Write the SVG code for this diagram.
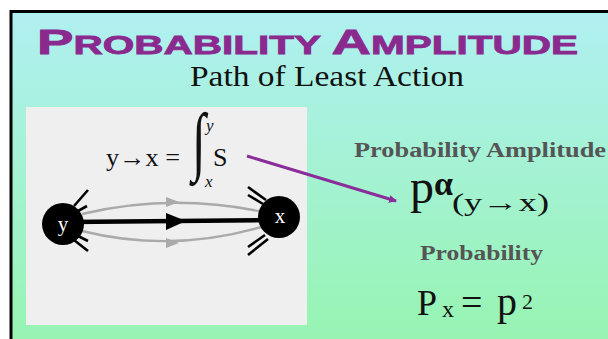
<svg xmlns="http://www.w3.org/2000/svg" width="608" height="339" viewBox="0 0 608 339">
<defs>
<linearGradient id="bg" x1="0" y1="0" x2="0" y2="1">
<stop offset="0" stop-color="#b0f0f2"/>
<stop offset="1" stop-color="#97f4b2"/>
</linearGradient>
<marker id="ap" markerWidth="8" markerHeight="8" refX="7" refY="4" orient="auto" markerUnits="userSpaceOnUse" viewBox="0 0 8 8">
<path d="M0,0 L8,4 L0,8 z" fill="#8a2d9a"/>
</marker>
<style>
.serif{font-family:"Liberation Serif","DejaVu Serif",serif}
.gray{fill:#555555;font-weight:bold}
.tick{stroke:#000;stroke-width:2.6;stroke-linecap:butt}
.curve{fill:none;stroke:#aaaaaa;stroke-width:2.4}
</style>
</defs>
<rect x="0" y="0" width="608" height="339" fill="#ffffff"/>
<rect x="10" y="11" width="598" height="328" fill="url(#bg)"/>
<line x1="11" y1="10" x2="11" y2="339" stroke="#000" stroke-width="3"/>
<line x1="10" y1="11.5" x2="608" y2="11.5" stroke="#000" stroke-width="3"/>

<g id="title">
<text x="37" y="54" font-family="Liberation Sans, Arial, sans-serif" font-weight="bold" fill="#8b2a8e" stroke="#8b2a8e" stroke-width="0.8" textLength="541" lengthAdjust="spacingAndGlyphs"><tspan font-size="35">P</tspan><tspan font-size="26">ROBABILITY </tspan><tspan font-size="35">A</tspan><tspan font-size="26">MPLITUDE</tspan></text>
<text x="327" y="86" class="serif" font-size="30" text-anchor="middle" fill="#111" textLength="274" lengthAdjust="spacingAndGlyphs">Path of Least Action</text>
</g>

<rect id="panel" x="26" y="107" width="281" height="218" fill="#efefef"/>

<g id="formula" class="serif" fill="#111">
<text x="106" y="166" font-size="26" textLength="74" lengthAdjust="spacingAndGlyphs">y→x =</text>
<text x="192" y="109" font-size="50" transform="scale(1,1.52)">∫</text>
<text x="206" y="131" font-size="17" font-style="italic">y</text>
<text x="205" y="187" font-size="17" font-style="italic">x</text>
<text x="213" y="166" font-size="26">S</text>
</g>

<g id="connectors">
<path class="curve" d="M82,214 Q174,192 268,213"/>
<path class="curve" d="M82,231 Q174,254 268,225"/>
<path d="M166,197 L179,202 L166,207 z" fill="#aaaaaa"/>
<path d="M166,238 L179,243 L166,248 z" fill="#aaaaaa"/>
<line x1="70" y1="222" x2="272" y2="220" stroke="#000" stroke-width="4.5"/>
<path d="M166,213 L186,221 L166,230 z" fill="#000"/>
<line x1="247" y1="156" x2="396" y2="201" stroke="#8a2d9a" stroke-width="3" marker-end="url(#ap)"/>
</g>

<g id="node-y">
<line class="tick" x1="74" y1="206" x2="88" y2="190"/>
<line class="tick" x1="78" y1="211" x2="87" y2="206"/>
<line class="tick" x1="78" y1="236" x2="88" y2="241"/>
<line class="tick" x1="74" y1="240" x2="88" y2="251"/>
<circle cx="63" cy="224" r="21" fill="#000"/>
<text x="63" y="231" class="serif" font-size="21" fill="#fff" text-anchor="middle">y</text>
</g>

<g id="node-x">
<line class="tick" x1="248" y1="187" x2="266" y2="200"/>
<line class="tick" x1="248" y1="195" x2="263" y2="204"/>
<line class="tick" x1="248" y1="247" x2="265" y2="235"/>
<line class="tick" x1="248" y1="255" x2="268" y2="239"/>
<circle cx="279" cy="217" r="21" fill="#000"/>
<text x="280" y="223" class="serif" font-size="21" fill="#fff" text-anchor="middle">x</text>
</g>

<g id="amplitude" class="serif">
<text x="354" y="157" font-size="20" class="gray" textLength="252" lengthAdjust="spacingAndGlyphs">Probability Amplitude</text>
<text x="410" y="203" font-size="48" fill="#111">p</text>
<text x="434" y="195" font-size="34" font-weight="bold" fill="#111">α</text>
<text x="452" y="211" font-size="25" fill="#111" textLength="97" lengthAdjust="spacingAndGlyphs">(y→x)</text>
</g>

<g id="probability" class="serif">
<text x="420" y="260" font-size="20" class="gray" textLength="123" lengthAdjust="spacingAndGlyphs">Probability</text>
<text x="417" y="315" font-size="36" fill="#111">P</text>
<text x="442" y="317" font-size="24" fill="#111">x</text>
<text x="461" y="315" font-size="38" fill="#111">=</text>
<text x="497" y="315" font-size="40" fill="#111">p</text>
<text x="522" y="309" font-size="22" fill="#111">2</text>
</g>
</svg>
